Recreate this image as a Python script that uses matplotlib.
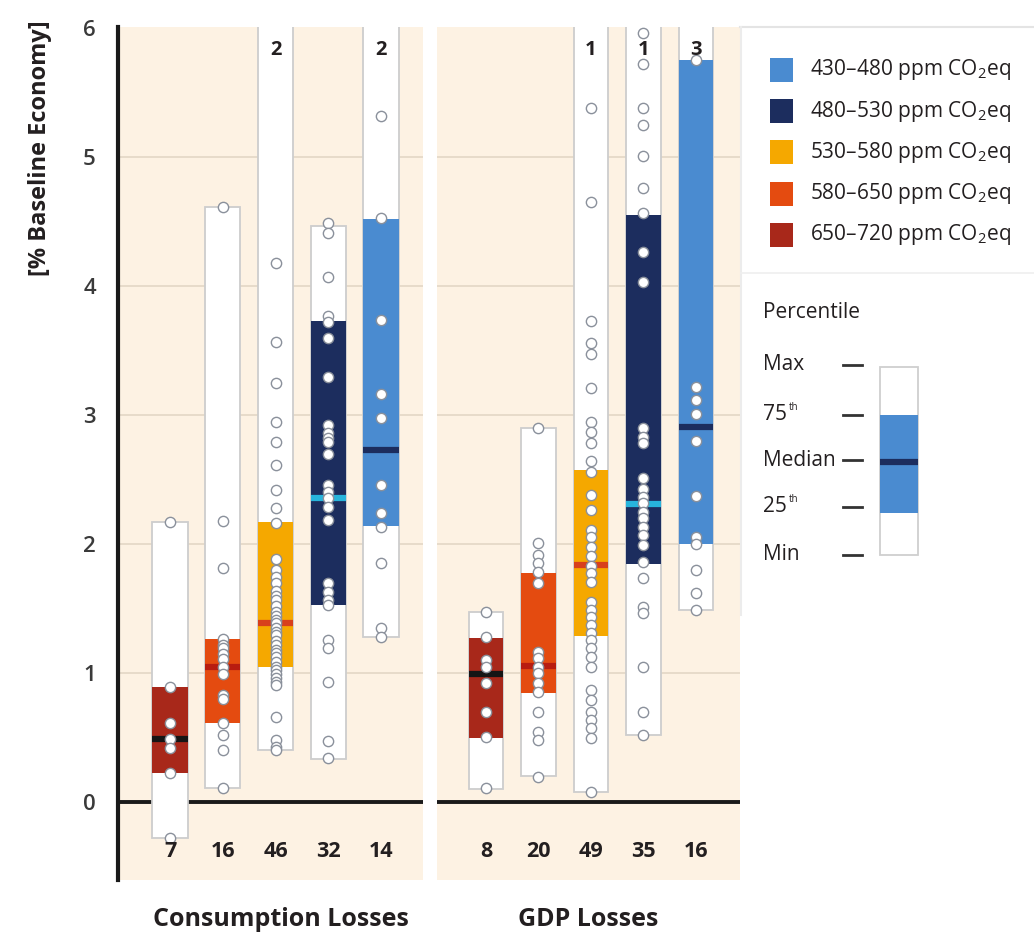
import matplotlib
matplotlib.use("Agg")
import matplotlib.pyplot as plt
from matplotlib.patches import Rectangle
from matplotlib import font_manager

# ---- data ----
groups = ['650–720', '580–650', '530–580', '480–530', '430–480']

cons_counts = [7, 16, 46, 32, 14]
cons_off = [0, 0, 2, 0, 2]   # runs above the axis top
cons_min = [-0.28, 0.11, 0.40, 0.33, 1.28]
cons_p25 = [0.225, 0.615, 1.044, 1.527, 2.14]
cons_med = [0.486, 1.049, 1.39, 2.354, 2.729]
cons_p75 = [0.89, 1.26, 2.17, 3.73, 4.52]
cons_max = [2.17, 4.61, 6.5, 4.465, 6.5]
cons_pts = [
    [2.17, 0.89, 0.615, 0.486, 0.416, 0.225, -0.28],
    [4.61, 2.18, 1.815, 1.26, 1.22, 1.19, 1.15, 1.11, 1.05, 0.99, 0.83, 0.80, 0.615, 0.52, 0.40, 0.11],
    [4.175, 3.568, 3.25, 2.948, 2.788, 2.61, 2.42, 2.277, 2.16, 1.88, 1.80, 1.747, 1.695, 1.638,
     1.60, 1.566, 1.52, 1.475, 1.44, 1.41, 1.39, 1.346, 1.32, 1.295, 1.25, 1.217, 1.18, 1.153,
     1.12, 1.088, 1.05, 1.023, 0.99, 0.959, 0.93, 0.907, 0.661, 0.48, 0.429, 0.403],
    [4.488, 4.41, 4.07, 3.767, 3.72, 3.60, 3.297, 2.92, 2.86, 2.82, 2.79, 2.70, 2.457, 2.405,
     2.354, 2.29, 2.186, 1.695, 1.63, 1.566, 1.527, 1.256, 1.19, 0.933, 0.475, 0.339],
    [5.318, 4.53, 3.74, 3.16, 2.974, 2.457, 2.238, 2.134, 1.85, 1.346, 1.28],
]

gdp_counts = [8, 20, 49, 35, 16]
gdp_off = [0, 0, 1, 1, 3]
gdp_min = [0.10, 0.20, 0.08, 0.52, 1.49]
gdp_p25 = [0.494, 0.843, 1.287, 1.845, 2.0]
gdp_med = [0.992, 1.056, 1.84, 2.31, 2.91]
gdp_p75 = [1.275, 1.773, 2.57, 4.55, 5.75]
gdp_max = [1.474, 2.896, 6.5, 6.5, 6.5]
gdp_pts = [
    [1.474, 1.28, 1.10, 1.049, 0.925, 0.70, 0.506, 0.106],
    [2.90, 2.005, 1.915, 1.85, 1.786, 1.70, 1.165, 1.114, 1.049, 0.997, 0.92, 0.855, 0.70,
     0.545, 0.48, 0.196],
    [5.377, 4.654, 3.73, 3.556, 3.473, 3.207, 2.948, 2.87, 2.784, 2.643, 2.56, 2.38, 2.264,
     2.109, 2.057, 1.979, 1.907, 1.832, 1.773, 1.708, 1.553, 1.488, 1.437, 1.372, 1.307,
     1.256, 1.19, 1.126, 1.049, 0.868, 0.791, 0.70, 0.636, 0.571, 0.494, 0.08],
    [5.96, 5.725, 5.377, 5.248, 5.008, 4.757, 4.563, 4.266, 4.033, 2.896, 2.832, 2.78, 2.51,
     2.43, 2.366, 2.315, 2.25, 2.2, 2.134, 2.07, 1.992, 1.863, 1.734, 1.514, 1.462, 1.049,
     0.70, 0.519],
    [5.75, 3.219, 3.116, 3.008, 2.80, 2.372, 2.057, 2.0, 1.798, 1.623, 1.488],
]

legend_labels = ['430–480', '480–530', '530–580', '580–650', '650–720']
yticks = [0, 1, 2, 3, 4, 5, 6]

# ---- styles ----
COLORS = ['#a8281a', '#e44b10', '#f5a800', '#1c2d5e', '#4a8bd0']
MED_COLORS = ['#151515', '#b81c10', '#d8401c', '#27b4dc', '#1c2d5e']
BG = '#fdf2e3'
GRID = '#e3d7c6'
TXT = '#231f20'
W = 0.665

names = {f.name for f in font_manager.fontManager.ttflist}
FONT = next((f for f in ['Liberation Sans Narrow', 'DejaVu Sans Condensed', 'Open Sans'] if f in names), 'DejaVu Sans')
plt.rcParams['font.family'] = [FONT, 'DejaVu Sans']
plt.rcParams['mathtext.fontset'] = 'custom'
plt.rcParams['mathtext.rm'] = FONT

YMIN, YMAX = -0.605, 6.008


def desenhar_painel(ax, xlim, mins, p25, med, p75, maxs, pts, counts, off, left_spine):
    ax.set_facecolor(BG)
    ax.set_xlim(*xlim)
    ax.set_ylim(YMIN, YMAX)
    for y in yticks[1:-1]:
        ax.axhline(y, color=GRID, lw=1.2, zorder=1)
    ax.axhline(0, color='#1a1a1a', lw=2.8, zorder=2)
    for i in range(5):
        ax.add_patch(Rectangle((i - W / 2, mins[i]), W, maxs[i] - mins[i], fc='white',
                               ec='#cdcdcd', lw=1.3, zorder=3))
        ax.add_patch(Rectangle((i - W / 2, p25[i]), W, p75[i] - p25[i], fc=COLORS[i],
                               ec='none', zorder=4))
        ax.plot([i - W / 2, i + W / 2], [med[i], med[i]], color=MED_COLORS[i], lw=4.5,
                solid_capstyle='butt', zorder=5)
        ax.plot([i] * len(pts[i]), pts[i], 'o', ms=7.4, mfc='white', mec='#8a909b',
                mew=1.0, zorder=6, clip_on=False)
        ax.text(i, -0.385, str(counts[i]), ha='center', va='center', fontsize=15.5,
                fontweight='bold', color=TXT, zorder=7)
        if off[i]:
            ax.text(i, 5.83, str(off[i]), ha='center', va='center', fontsize=14.5,
                    fontweight='bold', color=TXT, zorder=7)
    for s in ['top', 'right', 'bottom']:
        ax.spines[s].set_visible(False)
    ax.set_xticks([])
    if left_spine:
        ax.spines['left'].set_linewidth(3)
        ax.spines['left'].set_color('#1a1a1a')
        ax.set_yticks(yticks)
        ax.tick_params(axis='y', length=0, pad=16, labelsize=16, labelcolor='#3a3a3a')
        for t in ax.get_yticklabels():
            t.set_fontfamily(['Open Sans', 'DejaVu Sans'])
            t.set_fontweight('semibold')
    else:
        ax.spines['left'].set_visible(False)
        ax.set_yticks([])


fig = plt.figure(figsize=(10.34, 9.34), dpi=100)
FW, FH = 1034, 934


def fig_rect(x0, y0, x1, y1):
    return [x0 / FW, 1 - y1 / FH, (x1 - x0) / FW, (y1 - y0) / FH]


ax1 = fig.add_axes(fig_rect(118, 27, 423, 880))
ax2 = fig.add_axes(fig_rect(437, 27, 740, 880))
desenhar_painel(ax1, (-0.986, 4.796), cons_min, cons_p25, cons_med, cons_p75, cons_max,
                cons_pts, cons_counts, cons_off, True)
desenhar_painel(ax2, (-0.933, 4.838), gdp_min, gdp_p25, gdp_med, gdp_p75, gdp_max,
                gdp_pts, gdp_counts, gdp_off, False)

fig.text(40 / FW, 1 - 148 / FH, '[% Baseline Economy]', rotation=90, ha='center',
         va='center', fontsize=17, fontweight='bold', color=TXT)
fig.text(281 / FW, 1 - 920 / FH, 'Consumption Losses', ha='center', va='center',
         fontsize=18, fontweight='bold', color=TXT)
fig.text(588 / FW, 1 - 920 / FH, 'GDP Losses', ha='center', va='center',
         fontsize=18, fontweight='bold', color=TXT)

# ---- legend (pixel coordinates) ----
lg = fig.add_axes([0, 0, 1, 1], facecolor='none')
lg.set_xlim(0, FW)
lg.set_ylim(FH, 0)
lg.axis('off')
lg.plot([740, 1034], [27, 27], color='#e4e4e4', lw=1.5)
lg.plot([741, 741], [27, 615], color='#ececec', lw=1.5)
lg.plot([741, 1034], [273, 273], color='#efefef', lw=1.2)
leg_colors = COLORS[::-1]
for k, lab in enumerate(legend_labels):
    yc = 70 + k * 41.2
    lg.add_patch(Rectangle((770, yc - 12), 23, 24, fc=leg_colors[k], ec='none'))
    lg.text(810, yc, lab + ' ppm CO$_2$eq', ha='left', va='center', fontsize=15, color=TXT)

lg.text(763, 312, 'Percentile', ha='left', va='center', fontsize=15, color=TXT)
perc_labels = ['Max', '75', 'Median', '25', 'Min']
perc_y = [365, 415, 460, 507, 555]
for lab, yy in zip(perc_labels, perc_y):
    if lab in ('75', '25'):
        t = lg.text(763, yy, lab, ha='left', va='center', fontsize=15, color=TXT)
        lg.text(789, yy - 7, 'th', ha='left', va='center', fontsize=7, color=TXT)
    else:
        lg.text(763, yy, lab, ha='left', va='center', fontsize=15, color=TXT)
    lg.plot([843, 862], [yy, yy], color='#333333', lw=2)
lg.add_patch(Rectangle((880, 367), 38, 188, fc='white', ec='#cfcfcf', lw=1.3))
lg.add_patch(Rectangle((880, 415), 38, 98, fc=COLORS[4], ec='none'))
lg.plot([880, 918], [462, 462], color=MED_COLORS[4], lw=4.5, solid_capstyle='butt')

fig.savefig('out.png', dpi=100)
